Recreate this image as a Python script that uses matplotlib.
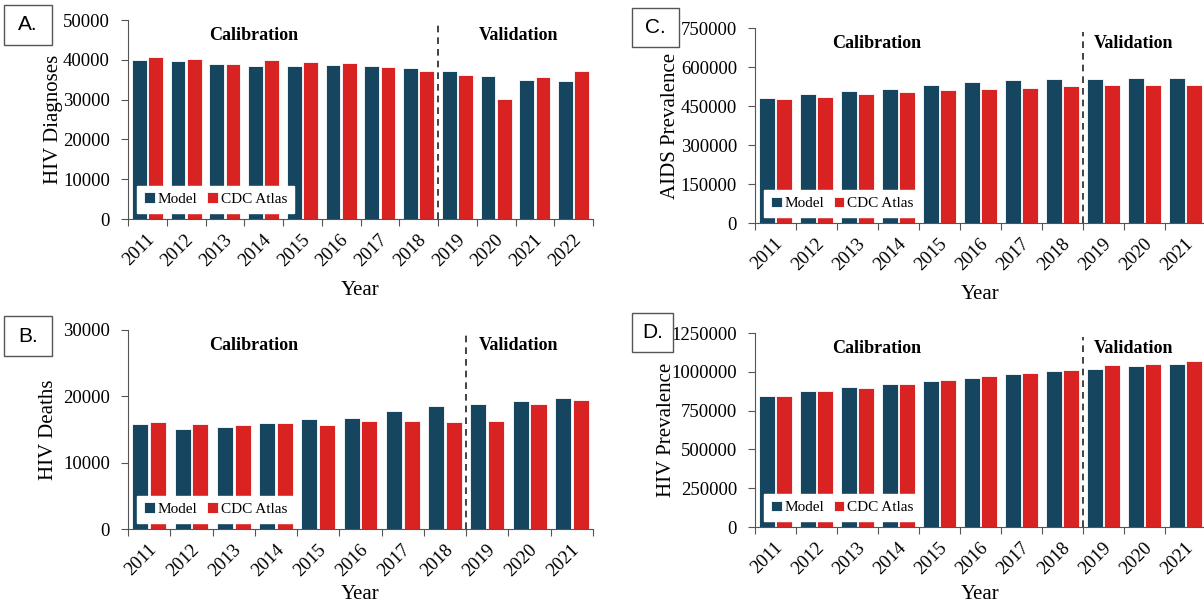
import numpy as np
import matplotlib
matplotlib.use("Agg")
import matplotlib.pyplot as plt
from matplotlib.patches import Rectangle
from matplotlib.ticker import FormatStrFormatter

plt.rcParams['font.family'] = ['Liberation Serif', 'DejaVu Serif']

MODEL_COLOR = '#15455f'
CDC_COLOR = '#d92323'
SPINE_COLOR = '#555555'

years_a = ['2011', '2012', '2013', '2014', '2015', '2016', '2017', '2018',
           '2019', '2020', '2021', '2022']
years_bcd = years_a[:-1]

# A. HIV diagnoses
diag_model = [40000, 39800, 39000, 38550, 38550, 38800, 38400, 37950,
              37300, 35950, 34950, 34600]
diag_cdc = [40800, 40200, 39000, 39900, 39550, 39200, 38100, 37100,
            36300, 30100, 35600, 37300]

# B. HIV deaths
deaths_model = [15850, 15100, 15350, 15950, 16600, 16750, 17750, 18500,
                18850, 19250, 19750]
deaths_cdc = [16100, 15850, 15750, 15950, 15750, 16250, 16250, 16100,
              16250, 18900, 19500]

# C. AIDS prevalence
aids_model = [480800, 496000, 507700, 516700, 529500, 542300, 548700,
              555100, 555100, 557700, 557700]
aids_cdc = [475600, 484600, 497400, 503800, 510300, 514100, 519200,
            525600, 529500, 529500, 529500]

# D. HIV prevalence
prev_model = [845500, 873300, 899000, 920400, 941800, 963200, 984600,
              1003800, 1021000, 1036000, 1053000]
prev_cdc = [845500, 873300, 892600, 920400, 946100, 971700, 995300,
            1014600, 1042400, 1053000, 1072300]

W, H = 1204, 607
fig = plt.figure(figsize=(W / 100, H / 100), dpi=100)


def px_axes(left, right, top, bottom):
    return fig.add_axes([left / W, (H - bottom) / H, (right - left) / W,
                         (bottom - top) / H])


def panel(ax, years, model, cdc, ymax, ystep, ylabel, ylab_x, letter, box,
          xlab_pad=8):
    n = len(years)
    x = np.arange(n)
    bw = 0.38
    ax.bar(x - 0.21, model, bw, color=MODEL_COLOR, edgecolor='white',
           linewidth=0.6, label='Model')
    ax.bar(x + 0.21, cdc, bw, color=CDC_COLOR, edgecolor='white',
           linewidth=0.6, label='CDC Atlas')
    ax.set_xlim(-0.5, n - 0.5)
    ax.set_ylim(0, ymax)
    ax.set_yticks(np.arange(0, ymax + 1, ystep))
    ax.yaxis.set_major_formatter(FormatStrFormatter('%d'))
    ax.set_xticks(np.arange(n + 1) - 0.5)
    ax.set_xticklabels([])
    ax.set_xticks(x + 0.12, minor=True)
    ax.set_xticklabels(years, minor=True, rotation=45, ha='right',
                       va='center', rotation_mode='anchor', fontsize=13.5)
    ax.tick_params(axis='x', which='minor', length=0, pad=13)
    ax.tick_params(axis='x', which='major', length=5, color=SPINE_COLOR)
    ax.tick_params(axis='y', labelsize=13.5, length=5, pad=8,
                   color=SPINE_COLOR)
    for s in ('top', 'right'):
        ax.spines[s].set_visible(False)
    for s in ('left', 'bottom'):
        ax.spines[s].set_color(SPINE_COLOR)
    ax.set_xlabel('Year', fontsize=15, labelpad=xlab_pad)
    ax.set_ylabel(ylabel, fontsize=15)
    ax.yaxis.set_label_coords(ylab_x, 0.5)

    # calibration / validation split after 2018
    ax.plot([7.5, 7.5], [0, ymax * 0.98], color='#222222', lw=1.2,
            ls=(0, (4, 3)), clip_on=False)
    ax.text(0.27, 0.92, 'Calibration', transform=ax.transAxes,
            ha='center', va='center', fontsize=13, fontweight='bold')
    ax.text(0.84, 0.92, 'Validation', transform=ax.transAxes,
            ha='center', va='center', fontsize=13, fontweight='bold')

    leg = ax.legend(loc='lower left', bbox_to_anchor=(0.02, 0.03), ncol=2,
                    fontsize=11, frameon=True, fancybox=False,
                    handlelength=0.7, handleheight=0.7, handletextpad=0.2,
                    columnspacing=0.6, borderpad=0.45, borderaxespad=0)
    leg.get_frame().set_edgecolor('white')
    leg.get_frame().set_alpha(1)

    bx, by, bw_px, bh_px = box
    fig.patches.append(Rectangle((bx / W, 1 - (by + bh_px) / H),
                                 bw_px / W, bh_px / H,
                                 transform=fig.transFigure, fill=False,
                                 edgecolor='#555555', lw=1))
    fig.text((bx + bw_px / 2) / W, 1 - (by + bh_px / 2) / H, letter,
             ha='center', va='center', fontsize=15, family='Liberation Sans')


ax_a = px_axes(128, 593, 20, 219)
panel(ax_a, years_a, diag_model, diag_cdc, 50000, 10000,
      'HIV Diagnoses', -0.14, 'A.', (4, 5, 48, 40))

ax_b = px_axes(128, 593, 330, 529)
panel(ax_b, years_bcd, deaths_model, deaths_cdc, 30000, 10000,
      'HIV Deaths', -0.15, 'B.', (4, 316, 48, 40), xlab_pad=4)

ax_c = px_axes(755, 1206, 28, 223)
panel(ax_c, years_bcd, aids_model, aids_cdc, 750000, 150000,
      'AIDS Prevalence', -0.166, 'C.', (632, 8, 47, 39))

ax_d = px_axes(755, 1206, 333, 527)
panel(ax_d, years_bcd, prev_model, prev_cdc, 1250000, 250000,
      'HIV Prevalence', -0.175, 'D.', (632, 313, 41, 39), xlab_pad=5)

fig.savefig('out.png', dpi=100)
